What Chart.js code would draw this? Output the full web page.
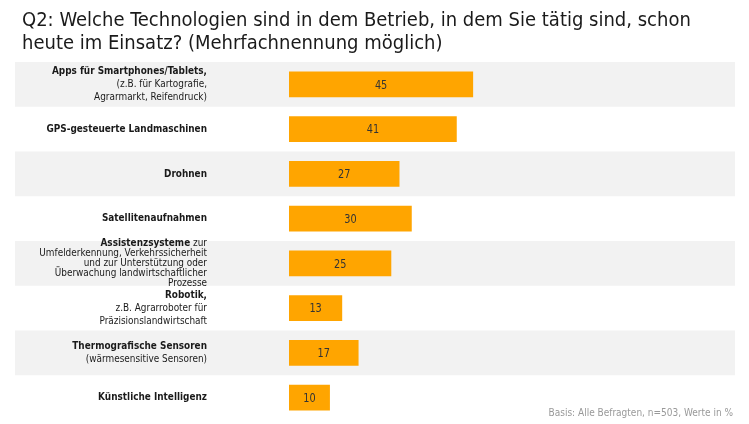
<!DOCTYPE html>
<html>
<head>
<meta charset="utf-8">
<script src="https://cdn.jsdelivr.net/npm/chart.js@4"></script>
<style>
  html, body { margin: 0; padding: 0; background: #fff; }
  #wrap { width: 749px; height: 424px; }
</style>
</head>
<body>
<div id="wrap"><canvas id="chart1"></canvas></div>
<script>
var FONT = "'Liberation Sans Narrow', 'DejaVu Sans Condensed', 'Roboto', sans-serif";

// label lines per category (first part of first line is bold)
var categoryLines = [
  ['Apps für Smartphones/Tablets,', '(z.B. für Kartografie,', 'Agrarmarkt, Reifendruck)'],
  ['GPS-gesteuerte Landmaschinen'],
  ['Drohnen'],
  ['Satellitenaufnahmen'],
  ['Assistenzsysteme zur', 'Umfelderkennung, Verkehrssicherheit', 'und zur Unterstützung oder', 'Überwachung landwirtschaftlicher', 'Prozesse'],
  ['Robotik,', 'z.B. Agrarroboter für', 'Präzisionslandwirtschaft'],
  ['Thermografische Sensoren', '(wärmesensitive Sensoren)'],
  ['Künstliche Intelligenz']
];
var boldParts = [
  'Apps für Smartphones/Tablets,',
  'GPS-gesteuerte Landmaschinen',
  'Drohnen',
  'Satellitenaufnahmen',
  'Assistenzsysteme',
  'Robotik,',
  'Thermografische Sensoren',
  'Künstliche Intelligenz'
];
var values = [45, 41, 27, 30, 25, 13, 17, 10];

var titleLines = [
  'Q2: Welche Technologien sind in dem Betrieb, in dem Sie tätig sind, schon',
  'heute im Einsatz? (Mehrfachnennung möglich)'
];
var footnote = 'Basis: Alle Befragten, n=503, Werte in %';

// gray bands behind every other row
var bandsPlugin = {
  id: 'bands',
  beforeDatasetsDraw: function(chart) {
    var ctx = chart.ctx;
    var y = chart.scales.y;
    var area = chart.chartArea;
    var step = (area.bottom - area.top) / values.length;
    ctx.save();
    ctx.fillStyle = '#f2f2f2';
    for (var i = 0; i < values.length; i += 2) {
      var cy = y.getPixelForValue(i);
      ctx.fillRect(15, cy - step / 2, 720, step);
    }
    ctx.restore();
  }
};

// draw text squeezed a little, the source font is narrower than ours
var SQ = 0.9;
function squeezed(ctx, txt, x, y) {
  ctx.save();
  ctx.translate(x, y);
  ctx.scale(SQ, 1);
  ctx.fillText(txt, 0, 0);
  ctx.restore();
}

// category labels on the left, value labels in the bars, footnote
var textPlugin = {
  id: 'texts',
  afterDatasetsDraw: function(chart) {
    var ctx = chart.ctx;
    var y = chart.scales.y;
    var rightX = 207;
    ctx.save();
    ctx.fillStyle = '#1a1a1a';
    ctx.textBaseline = 'middle';
    ctx.textAlign = 'right';
    var boldFont = 'bold 11px ' + FONT;
    var normFont = '11px ' + FONT;
    categoryLines.forEach(function(lines, i) {
      var cy = y.getPixelForValue(i);
      var lh = lines.length > 3 ? 10 : 13;
      var start = cy - lh * (lines.length - 1) / 2;
      lines.forEach(function(line, j) {
        var ly = start + j * lh;
        if (j == 0) {
          var b = boldParts[i];
          var rest = line.substring(b.length);
          ctx.font = normFont;
          var rw = rest ? ctx.measureText(rest).width * SQ : 0;
          if (rest) squeezed(ctx, rest, rightX, ly);
          ctx.font = boldFont;
          squeezed(ctx, b, rightX - rw, ly);
        } else {
          ctx.font = normFont;
          squeezed(ctx, line, rightX, ly);
        }
      });
    });

    ctx.textAlign = 'center';
    ctx.font = '12px ' + FONT;
    ctx.fillStyle = '#333';
    chart.getDatasetMeta(0).data.forEach(function(bar, i) {
      squeezed(ctx, values[i], (bar.base + bar.x) / 2, bar.y + 1);
    });

    ctx.textAlign = 'right';
    ctx.font = '10px ' + FONT;
    ctx.fillStyle = '#999';
    ctx.fillText(footnote, 733, 413);
    ctx.restore();
  }
};

var ctx = document.getElementById('chart1').getContext('2d');
var myChart = new Chart(ctx, {
  type: 'bar',
  data: {
    labels: categoryLines.map(function(l) { return l.join(' '); }),
    datasets: [{
      data: values,
      backgroundColor: '#ffa500',
      borderWidth: 0,
      barPercentage: 0.58,
      categoryPercentage: 1
    }]
  },
  options: {
    indexAxis: 'y',
    responsive: true,
    maintainAspectRatio: false,
    animation: false,
    layout: { padding: { left: 22, right: 14, top: 0, bottom: 4 } },
    plugins: {
      legend: { display: false },
      tooltip: { enabled: false },
      title: {
        display: true,
        text: titleLines,
        align: 'start',
        color: '#1a1a1a',
        font: { family: FONT, size: 20, weight: 'normal', lineHeight: 1.15 },
        padding: { top: 9, bottom: 7 }
      }
    },
    scales: {
      x: { display: false, min: 0, max: 109 },
      y: {
        display: true,
        ticks: { display: false },
        grid: { display: false },
        border: { display: false },
        afterFit: function(s) { s.width = 267; }
      }
    }
  },
  plugins: [bandsPlugin, textPlugin]
});
</script>
</body>
</html>
